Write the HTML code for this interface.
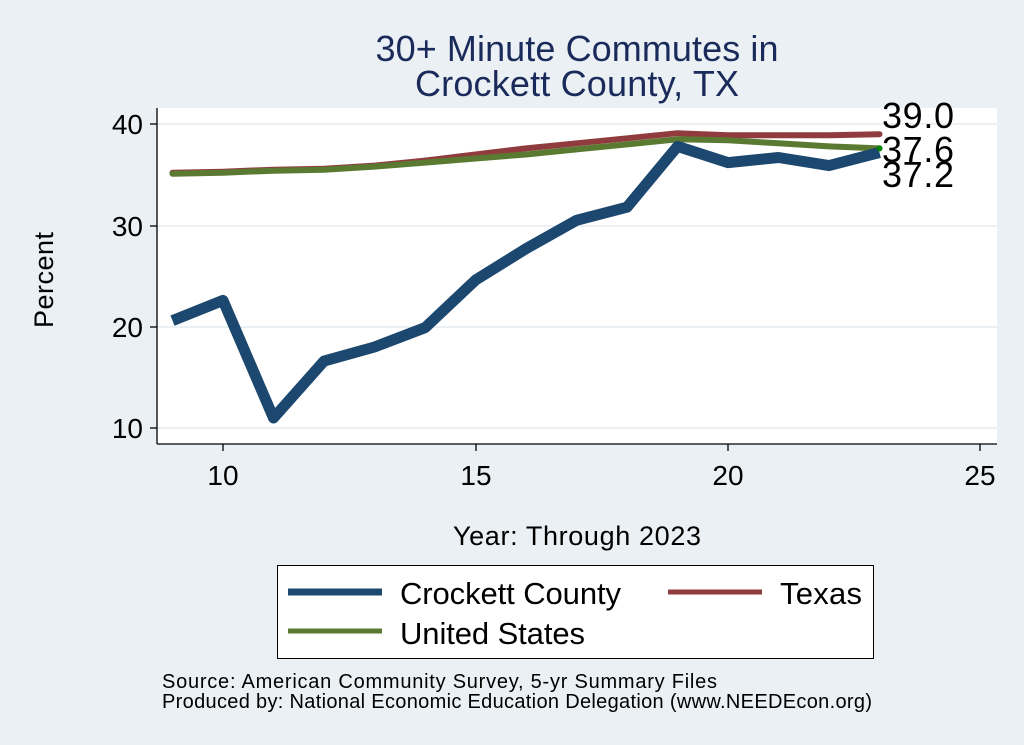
<!DOCTYPE html>
<html><head><meta charset="utf-8"><style>
body{margin:0;background:#eaf0f3;}
svg{display:block;font-family:"Liberation Sans",Arial,sans-serif;}
</style></head><body>
<svg width="1024" height="745" viewBox="0 0 1024 745">
<rect width="1024" height="745" fill="#eaf0f3"/>
<rect x="157" y="108" width="840" height="336" fill="#fff"/>
<g stroke="#eaf0f3" stroke-width="2">
<line x1="157" x2="997" y1="124" y2="124"/><line x1="157" x2="997" y1="226" y2="226"/>
<line x1="157" x2="997" y1="327" y2="327"/><line x1="157" x2="997" y1="428" y2="428"/>
</g>
<g stroke="#000" stroke-width="1.3">
<line x1="157" y1="108" x2="157" y2="444"/><line x1="157" y1="444" x2="997" y2="444"/>
<line x1="150" x2="157" y1="124" y2="124"/><line x1="150" x2="157" y1="226" y2="226"/>
<line x1="150" x2="157" y1="327" y2="327"/><line x1="150" x2="157" y1="428" y2="428"/>
<line x1="223" x2="223" y1="444" y2="451"/><line x1="476" x2="476" y1="444" y2="451"/>
<line x1="728" x2="728" y1="444" y2="451"/><line x1="980" x2="980" y1="444" y2="451"/>
</g>
<g font-size="28" text-anchor="end" fill="#000">
<text x="143" y="134">40</text><text x="143" y="236">30</text><text x="143" y="337">20</text><text x="143" y="438">10</text>
</g>
<g font-size="28" text-anchor="middle" fill="#000">
<text x="223" y="485">10</text><text x="476" y="485">15</text><text x="728" y="485">20</text><text x="980" y="485">25</text>
<text x="577" y="545" font-size="27" textLength="248">Year: Through 2023</text>
<text x="577" y="61" font-size="36" fill="#1a2a5a" textLength="403">30+ Minute Commutes in</text>
<text x="577" y="96" font-size="36" fill="#1a2a5a" textLength="324">Crockett County, TX</text>
</g>
<text transform="translate(53,280) rotate(-90)" font-size="27" text-anchor="middle" textLength="96">Percent</text>
<g fill="none" stroke-linejoin="round" stroke-linecap="round">
<polyline stroke="#903c3f" stroke-width="6" points="172.5,172.7 223,171.7 273.5,169.7 324,168.7 374.5,165.6 425,160.6 475.5,154.5 526,148.4 576.5,143.3 627,138.3 677.5,133.2 728,135.2 778.5,135.2 829,135.2 879.5,134.2"/>
<polyline stroke="#5a7a32" stroke-width="6" points="172.5,173.7 223,172.7 273.5,170.7 324,169.7 374.5,166.6 425,162.6 475.5,158.5 526,154.5 576.5,149.4 627,144.4 677.5,139.3 728,140.3 778.5,143.3 829,146.4 879.5,148.4"/>
<polyline stroke="#1c476f" stroke-width="11" stroke-linecap="butt" points="172.5,320.6 223,300.4 273.5,418 324,361.1 374.5,347 425,327.7 475.5,280.1 526,248.7 576.5,220.3 627,207.2 677.5,146.4 728,162.6 778.5,157.5 829,165.6 879.5,152.5"/>
</g>
<circle cx="879.5" cy="148.4" r="3" fill="#008000"/>
<g font-size="36" fill="#000">
<text x="882" y="128" textLength="72">39.0</text><text x="882" y="162" textLength="72">37.6</text><text x="882" y="187" textLength="72">37.2</text>
</g>
<rect x="277.5" y="565.5" width="596" height="93" fill="#fff" stroke="#000" stroke-width="1"/>
<line x1="288" x2="382" y1="592" y2="592" stroke="#1c476f" stroke-width="7"/>
<line x1="668" x2="762" y1="592" y2="592" stroke="#903c3f" stroke-width="5"/>
<line x1="288" x2="382" y1="631" y2="631" stroke="#5a7a32" stroke-width="5"/>
<g font-size="31" fill="#000">
<text x="400" y="604" textLength="221">Crockett County</text><text x="780" y="604" textLength="82">Texas</text><text x="400" y="644" textLength="185">United States</text>
</g>
<g font-size="20" fill="#000">
<text x="162" y="688" textLength="555">Source: American Community Survey, 5-yr Summary Files</text>
<text x="162" y="708" textLength="710">Produced by: National Economic Education Delegation (www.NEEDEcon.org)</text>
</g>
</svg>
</body></html>
